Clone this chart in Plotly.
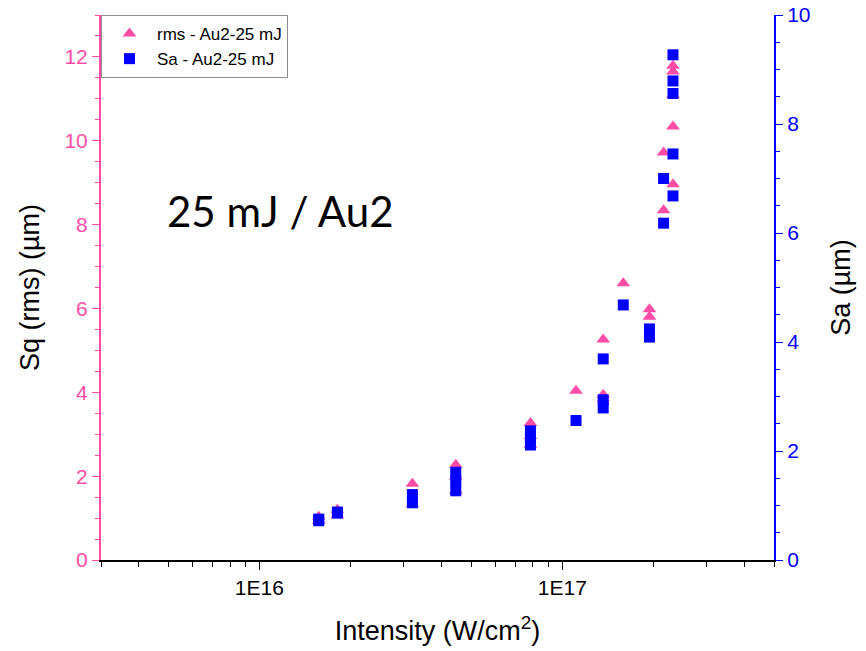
import math
import plotly.graph_objects as go

# Surface roughness vs. laser intensity, 25 mJ pulses on Au2
intensity = [1.57e16, 1.57e16, 1.81e16, 1.81e16, 3.2e16, 3.2e16,
             4.45e16, 4.45e16, 4.45e16, 7.85e16, 7.85e16, 7.85e16,
             1.11e17, 1.365e17, 1.365e17, 1.365e17, 1.59e17,
             1.94e17, 1.94e17, 2.16e17, 2.16e17,
             2.32e17, 2.32e17, 2.32e17, 2.32e17, 2.32e17]
sq_rms = [1.03, 0.93, 1.20, 1.07, 1.82, 1.33,
          2.27, 1.98, 1.65, 3.27, 2.96, 2.75,
          4.04, 5.26, 3.94, 3.85, 6.60,
          5.98, 5.80, 9.72, 8.34,
          11.79, 11.65, 11.10, 10.34, 8.96]
sa = [0.75, 0.72, 0.88, 0.86, 1.20, 1.05,
      1.61, 1.45, 1.27, 2.37, 2.23, 2.11,
      2.56, 3.69, 2.94, 2.79, 4.68,
      4.24, 4.09, 7.00, 6.18,
      9.27, 8.79, 8.56, 7.45, 6.68]

x_major = [1e16, 1e17]
x_major_text = ["1E16", "1E17"]
x_minor = [3e15, 4e15, 5e15, 6e15, 7e15, 8e15, 9e15,
           2e16, 3e16, 4e16, 5e16, 6e16, 7e16, 8e16, 9e16,
           2e17, 3e17, 4e17, 5e17]
x_range = [3e15, 5e17]

PINK = "#ff4da6"
BLUE = "#0000ff"
FONT = "Liberation Sans, Arial, sans-serif"

fig = go.Figure()
fig.add_trace(go.Scatter(
    x=intensity, y=sq_rms, mode="markers", name="rms - Au2-25 mJ",
    marker=dict(symbol="triangle-up", size=12, color=PINK, line=dict(width=0)),
    yaxis="y"))
fig.add_trace(go.Scatter(
    x=intensity, y=sa, mode="markers", name="Sa - Au2-25 mJ",
    marker=dict(symbol="square", size=11, color=BLUE, line=dict(width=0)),
    yaxis="y2"))

log_range = [math.log10(x_range[0]), math.log10(x_range[1])]

fig.update_layout(
    width=866, height=651,
    margin=dict(l=101, r=92, t=15, b=91),
    paper_bgcolor="white", plot_bgcolor="white",
    font=dict(family=FONT, color="black"),
    showlegend=True,
    legend=dict(x=0, y=1, xanchor="left", yanchor="top",
                bgcolor="white", bordercolor="#8c8c8c", borderwidth=1,
                font=dict(size=17, family=FONT, color="black"),
                itemwidth=45, tracegroupgap=0),
    xaxis=dict(
        type="log", range=log_range,
        tickmode="array", tickvals=x_major, ticktext=x_major_text,
        ticks="outside", ticklen=8, tickwidth=1.3, tickcolor="black",
        minor=dict(tickmode="array", tickvals=x_minor, ticks="outside",
                   ticklen=5, tickwidth=1.3, tickcolor="black"),
        showline=True, linecolor="black", linewidth=1.5,
        showgrid=False, zeroline=False,
        tickfont=dict(size=21, color="black"),
        title=dict(text="Intensity (W/cm<sup>2</sup>)", standoff=23,
                   font=dict(size=27, color="black")),
        automargin=False,
    ),
    xaxis2=dict(
        type="log", range=log_range, overlaying="x", side="top",
        tickmode="array", tickvals=x_major, showticklabels=False,
        ticks="inside", ticklen=8, tickwidth=1.3, tickcolor="black",
        minor=dict(tickmode="array", tickvals=x_minor, ticks="inside",
                   ticklen=5, tickwidth=1.3, tickcolor="black"),
        showline=True, linecolor="black", linewidth=1.5,
        showgrid=False, zeroline=False,
    ),
    yaxis=dict(
        range=[0, 13], tick0=0, dtick=2,
        ticks="outside", ticklen=7, tickwidth=1.3, tickcolor=PINK,
        minor=dict(dtick=0.5, tick0=0, ticks="outside", ticklen=4,
                   tickwidth=1.3, tickcolor=PINK),
        showline=True, linecolor=PINK, linewidth=2,
        showgrid=False, zeroline=False,
        tickfont=dict(size=21, color=PINK),
        title=dict(text="Sq (rms) (µm)", standoff=17,
                   font=dict(size=27, color="black")),
        automargin=False,
    ),
    yaxis2=dict(
        range=[0, 10], tick0=0, dtick=2, overlaying="y", side="right",
        ticks="outside", ticklen=7, tickwidth=1.3, tickcolor=BLUE,
        minor=dict(dtick=0.5, tick0=0, ticks="outside", ticklen=4,
                   tickwidth=1.3, tickcolor=BLUE),
        showline=True, linecolor=BLUE, linewidth=2,
        showgrid=False, zeroline=False,
        tickfont=dict(size=21, color=BLUE),
        title=dict(text="Sa (µm)", standoff=22,
                   font=dict(size=27, color="black")),
        automargin=False,
    ),
    annotations=[dict(
        text="25 mJ / Au2", xref="paper", yref="paper",
        x=0.266, y=0.64, xanchor="center", yanchor="middle",
        showarrow=False, font=dict(size=42, family="Lato, Carlito, sans-serif", color="black"),
    )],
)

fig.write_html("out.html")
